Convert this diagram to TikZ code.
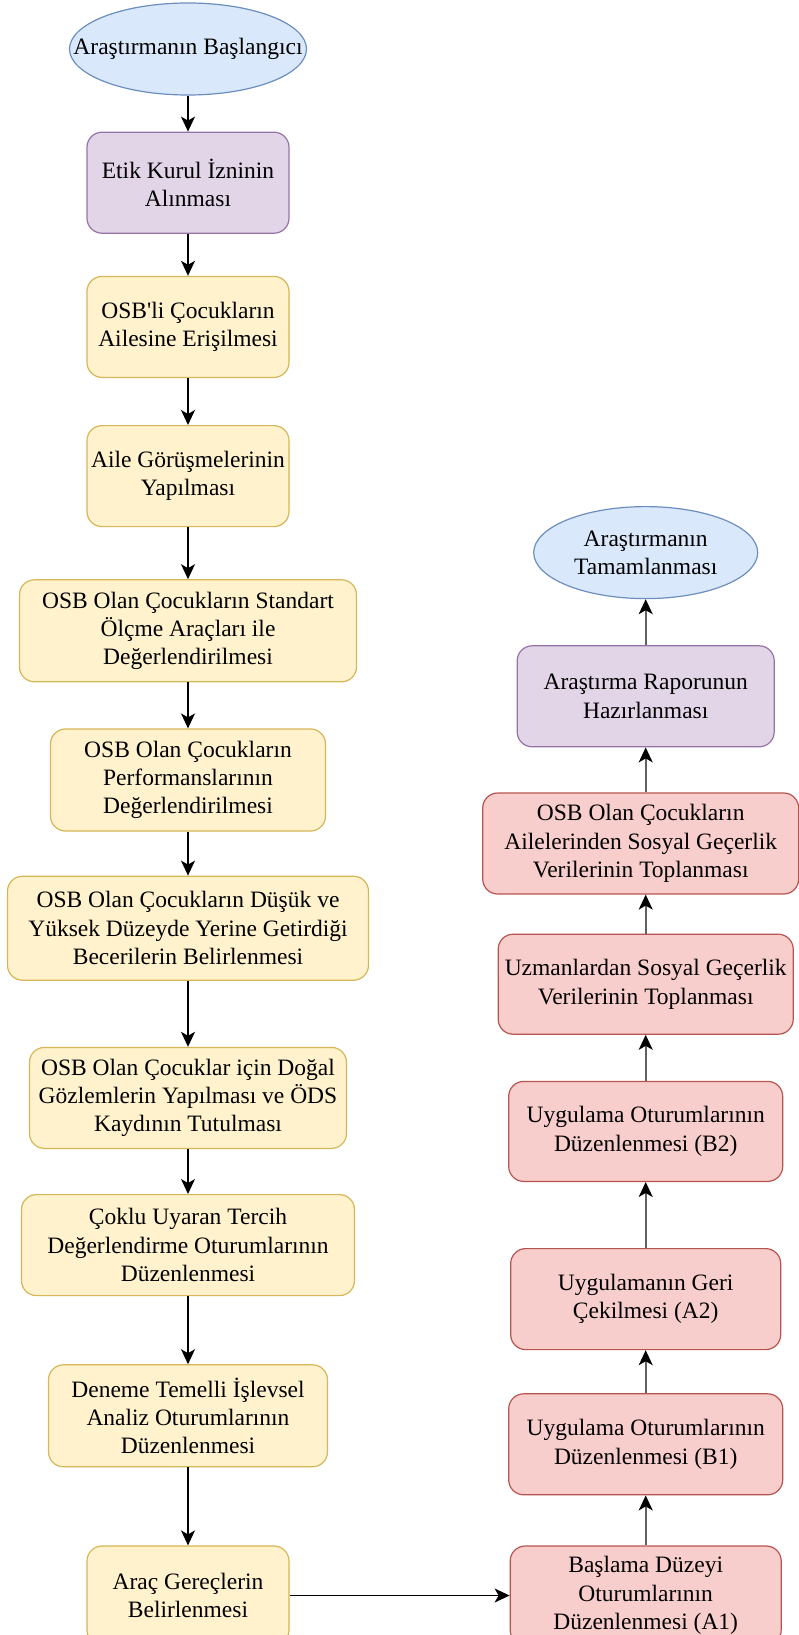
\documentclass[tikz,border=0pt]{standalone}
\usepackage{fontspec}
\setmainfont{Liberation Serif}[Ligatures=TeXOff]
\usetikzlibrary{positioning, arrows.meta, shapes.geometric}

\definecolor{blueFill}{HTML}{DAE8FC}
\definecolor{blueLine}{HTML}{6C8EBF}
\definecolor{purpleFill}{HTML}{E1D5E7}
\definecolor{purpleLine}{HTML}{9673A6}
\definecolor{yellowFill}{HTML}{FFF2CC}
\definecolor{yellowLine}{HTML}{D6B656}
\definecolor{redFill}{HTML}{F8CECC}
\definecolor{redLine}{HTML}{B85450}

\begin{document}
\begin{tikzpicture}[
        x=1pt, y=1pt,
        font=\fontsize{23.5}{28.3}\selectfont,
        endNode/.style={draw=blueLine, fill=blueFill, ellipse, line width=1.2pt, inner xsep=-40pt, inner ysep=0pt, align=center, minimum height=92pt},
        stepBox/.style={draw, rectangle, rounded corners=15pt, line width=1.2pt, inner xsep=2pt, inner ysep=0pt, align=center, minimum height=101pt},
        permitBox/.style={stepBox, draw=purpleLine, fill=purpleFill},
        prepBox/.style={stepBox, draw=yellowLine, fill=yellowFill},
        sessionBox/.style={stepBox, draw=redLine, fill=redFill},
        arrow/.style={-{Stealth[length=15pt, width=14pt, inset=4pt]}, line width=1.4pt},
        upArrow/.style={-{Stealth[length=15pt, width=14pt, inset=4pt, black]}, line width=1.6pt, black!62}
    ]
        \useasboundingbox (0,0) rectangle (799,-1635);

        % Left column
        \node[endNode, minimum width=237pt] (start) at (188,-49) {Araştırmanın Başlangıcı};
        \node[permitBox, minimum width=202pt, below=36pt of start] (etik) {Etik Kurul İzninin\\Alınması};
        \node[prepBox, minimum width=202pt, below=42pt of etik] (erisim) {OSB'li Çocukların\\Ailesine Erişilmesi};
        \node[prepBox, minimum width=202pt, below=47pt of erisim] (gorusme) {Aile Görüşmelerinin\\Yapılması};
        \node[prepBox, minimum width=337pt, minimum height=102pt, below=52pt of gorusme] (standart) {OSB Olan Çocukların Standart\\Ölçme Araçları ile\\Değerlendirilmesi};
        \node[prepBox, minimum width=275pt, minimum height=102pt, below=46pt of standart] (performans) {OSB Olan Çocukların\\Performanslarının\\Değerlendirilmesi};
        \node[prepBox, minimum width=361pt, minimum height=104pt, below=44pt of performans] (beceri) {OSB Olan Çocukların Düşük ve\\Yüksek Düzeyde Yerine Getirdiği\\Becerilerin Belirlenmesi};
        \node[prepBox, minimum width=317pt, below=66pt of beceri] (gozlem) {OSB Olan Çocuklar için Doğal\\Gözlemlerin Yapılması ve ÖDS\\Kaydının Tutulması};
        \node[prepBox, minimum width=333pt, below=45pt of gozlem] (tercih) {Çoklu Uyaran Tercih\\Değerlendirme Oturumlarının\\Düzenlenmesi};
        \node[prepBox, minimum width=279pt, minimum height=102pt, below=68pt of tercih] (islevsel) {Deneme Temelli İşlevsel\\Analiz Oturumlarının\\Düzenlenmesi};
        \node[prepBox, minimum width=202pt, minimum height=99pt, below=78pt of islevsel] (arac) {Araç Gereçlerin\\Belirlenmesi};

        % Right column (bottom up)
        \node[sessionBox, minimum width=271pt, minimum height=99pt, right=220pt of arac] (baslama) {Başlama Düzeyi\\Oturumlarının\\Düzenlenmesi (A1)};
        \node[sessionBox, minimum width=274pt, above=50pt of baslama] (uygB1) {Uygulama Oturumlarının\\Düzenlenmesi (B1)};
        \node[sessionBox, minimum width=270pt, above=43pt of uygB1] (geriA2) {Uygulamanın Geri\\Çekilmesi (A2)};
        \node[sessionBox, minimum width=274pt, minimum height=100pt, above=66pt of geriA2] (uygB2) {Uygulama Oturumlarının\\Düzenlenmesi (B2)};
        \node[sessionBox, minimum width=295pt, minimum height=100pt, above=46pt of uygB2] (uzman) {Uzmanlardan Sosyal Geçerlik\\Verilerinin Toplanması};
        \node[sessionBox, minimum width=316pt, above=39pt of uzman, xshift=-5pt] (aileler) {OSB Olan Çocukların\\Ailelerinden Sosyal Geçerlik\\Verilerinin Toplanması};
        \node[permitBox, minimum width=257pt, above=45pt of aileler, xshift=5pt] (rapor) {Araştırma Raporunun\\Hazırlanması};
        \node[endNode, minimum width=224pt, above=46pt of rapor] (bitis) {Araştırmanın\\Tamamlanması};

        % Arrows
        \draw[arrow] (start) -- (etik);
        \draw[arrow] (etik) -- (erisim);
        \draw[arrow] (erisim) -- (gorusme);
        \draw[arrow] (gorusme) -- (standart);
        \draw[arrow] (standart) -- (performans);
        \draw[arrow] (performans) -- (beceri);
        \draw[arrow] (beceri) -- (gozlem);
        \draw[arrow] (gozlem) -- (tercih);
        \draw[arrow] (tercih) -- (islevsel);
        \draw[arrow] (islevsel) -- (arac);
        \draw[arrow] (arac) -- (baslama);
        \draw[upArrow] (baslama) -- (uygB1);
        \draw[upArrow] (uygB1) -- (geriA2);
        \draw[upArrow] (geriA2) -- (uygB2);
        \draw[upArrow] (uygB2) -- (uzman);
        \draw[upArrow] (uzman) -- (uzman |- aileler.south);
        \draw[upArrow] (aileler.north -| rapor.south) -- (rapor.south);
        \draw[upArrow] (rapor) -- (bitis);
    \end{tikzpicture}
\end{document}
